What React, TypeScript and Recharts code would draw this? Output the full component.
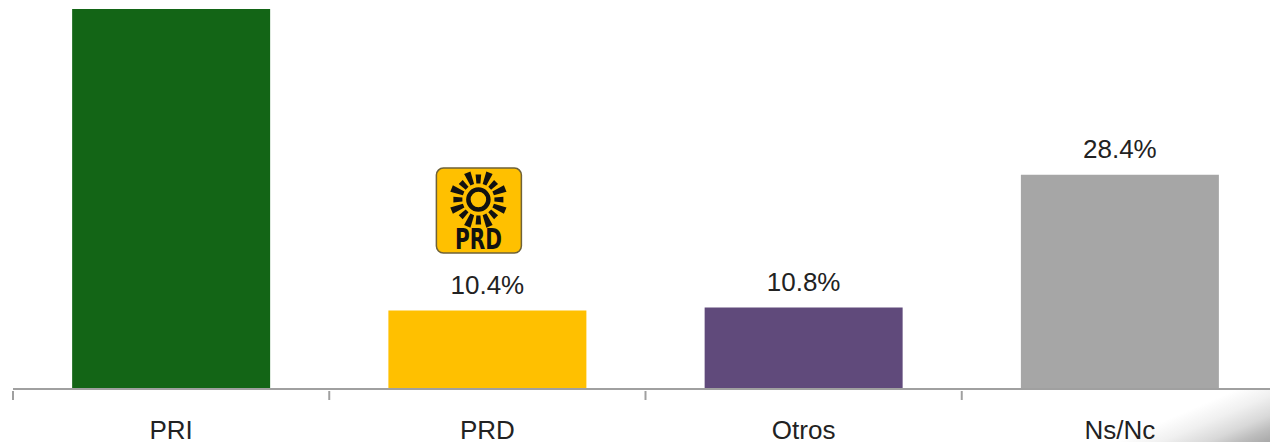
import React from 'react';
import { BarChart, Bar, XAxis, YAxis, Cell, LabelList } from 'recharts';

const categories = ['PRI', 'PRD', 'Otros', 'Ns/Nc'];
const values = [50.4, 10.4, 10.8, 28.4];
const colors = ['#136516', '#FFC000', '#604A7B', '#A6A6A6'];

const data = categories.map((name, i) => ({ name, value: values[i] }));

const CHART_WIDTH = 1289;
const MARGIN_LEFT = 13;
const MARGIN_RIGHT = 11;
const BAND = (CHART_WIDTH - MARGIN_LEFT - MARGIN_RIGHT) / categories.length;
const FONT = '"Liberation Sans", Arial, sans-serif';
const TEXT_COLOR = '#222222';
const AXIS_COLOR = '#a0a0a0';
const RAY_ANGLES = [0, 22.5, 45, 67.5, 90, 112.5, 135, 157.5, 180, 202.5, 225, 247.5, 270, 292.5, 315, 337.5];

// category ticks sit on the band edges, the label stays in the middle
const CategoryTick = (props: any) => {
  const { x, y, payload } = props;
  const left = x - BAND / 2;
  return (
    <g>
      <line x1={left} x2={left} y1={y - 8} y2={y + 1} stroke={AXIS_COLOR} strokeWidth={2} />
      <text x={x} y={y + 40} textAnchor="middle" fontFamily={FONT} fontSize={26} fill={TEXT_COLOR}>
        {payload.value}
      </text>
    </g>
  );
};

const PrdLogo = ({ cx, top }: { cx: number; top: number }) => (
  <g transform={`translate(${cx - 43},${top})`}>
    <rect x={0.5} y={0.5} width={85} height={85} rx={7} fill="#FFC000" stroke="#6f6238" strokeWidth={1.5} />
    <g transform="translate(42.5,32)">
      <circle r={10} fill="none" stroke="#111" strokeWidth={4.5} />
      {RAY_ANGLES.map((a) => (
        <path
          key={a}
          d={a % 45 === 0 ? 'M16 -2 L25 -2.8 L25 2.8 L16 2 Z' : 'M16 -2 L29 -3.4 L29 3.4 L16 2 Z'}
          fill="#111"
          transform={`rotate(${a})`}
        />
      ))}
    </g>
    <text
      x={42.5}
      y={81}
      textAnchor="middle"
      fontFamily='"DejaVu Sans", sans-serif'
      fontWeight="bold"
      fontSize={29}
      fill="#111"
      textLength={47}
      lengthAdjust="spacingAndGlyphs"
    >
      PRD
    </text>
  </g>
);

const ValueLabel = (props: any) => {
  const { x, y, width, value, index } = props;
  const cx = x + width / 2;
  // the tallest bar reaches the top of the picture, no room for its label
  if (y < 40) return null;
  return (
    <g>
      <text x={cx} y={y - 17} textAnchor="middle" fontFamily={FONT} fontSize={26} fill={TEXT_COLOR}>
        {`${value}%`}
      </text>
      {categories[index] === 'PRD' && <PrdLogo cx={cx - 8.5} top={y - 143} />}
    </g>
  );
};

export default function App() {
  return (
    <div style={{ position: 'fixed', left: 0, top: 0, width: 1270, height: 442, overflow: 'hidden', background: '#fff' }}>
      <svg width={1270} height={442} style={{ position: 'absolute', left: 0, top: 0 }}>
        <defs>
          <linearGradient id="swoosh" gradientUnits="userSpaceOnUse" x1="1208" y1="402" x2="1232" y2="458">
            <stop offset="0" stopColor="#ffffff" />
            <stop offset="0.3" stopColor="#f0f0f0" />
            <stop offset="0.6" stopColor="#d8d8d8" />
            <stop offset="0.8" stopColor="#bdbdbd" />
            <stop offset="1" stopColor="#a8a8a8" />
          </linearGradient>
        </defs>
        <rect x={1100} y={390} width={170} height={52} fill="url(#swoosh)" />
      </svg>
      <div style={{ position: 'absolute', left: 0, top: 0 }}>
        <BarChart
          width={CHART_WIDTH}
          height={442}
          data={data}
          barCategoryGap="18.7%"
          margin={{ top: 9, right: MARGIN_RIGHT, bottom: 0, left: MARGIN_LEFT }}
        >
          <XAxis
            dataKey="name"
            interval={0}
            height={53}
            axisLine={{ stroke: AXIS_COLOR, strokeWidth: 2 }}
            tickLine={false}
            tick={<CategoryTick />}
            tickSize={8}
          />
          <YAxis hide domain={[0, 50.4]} />
          <Bar dataKey="value" isAnimationActive={false}>
            {data.map((d, i) => (
              <Cell key={d.name} fill={colors[i]} />
            ))}
            <LabelList dataKey="value" content={<ValueLabel />} />
          </Bar>
        </BarChart>
      </div>
    </div>
  );
}
